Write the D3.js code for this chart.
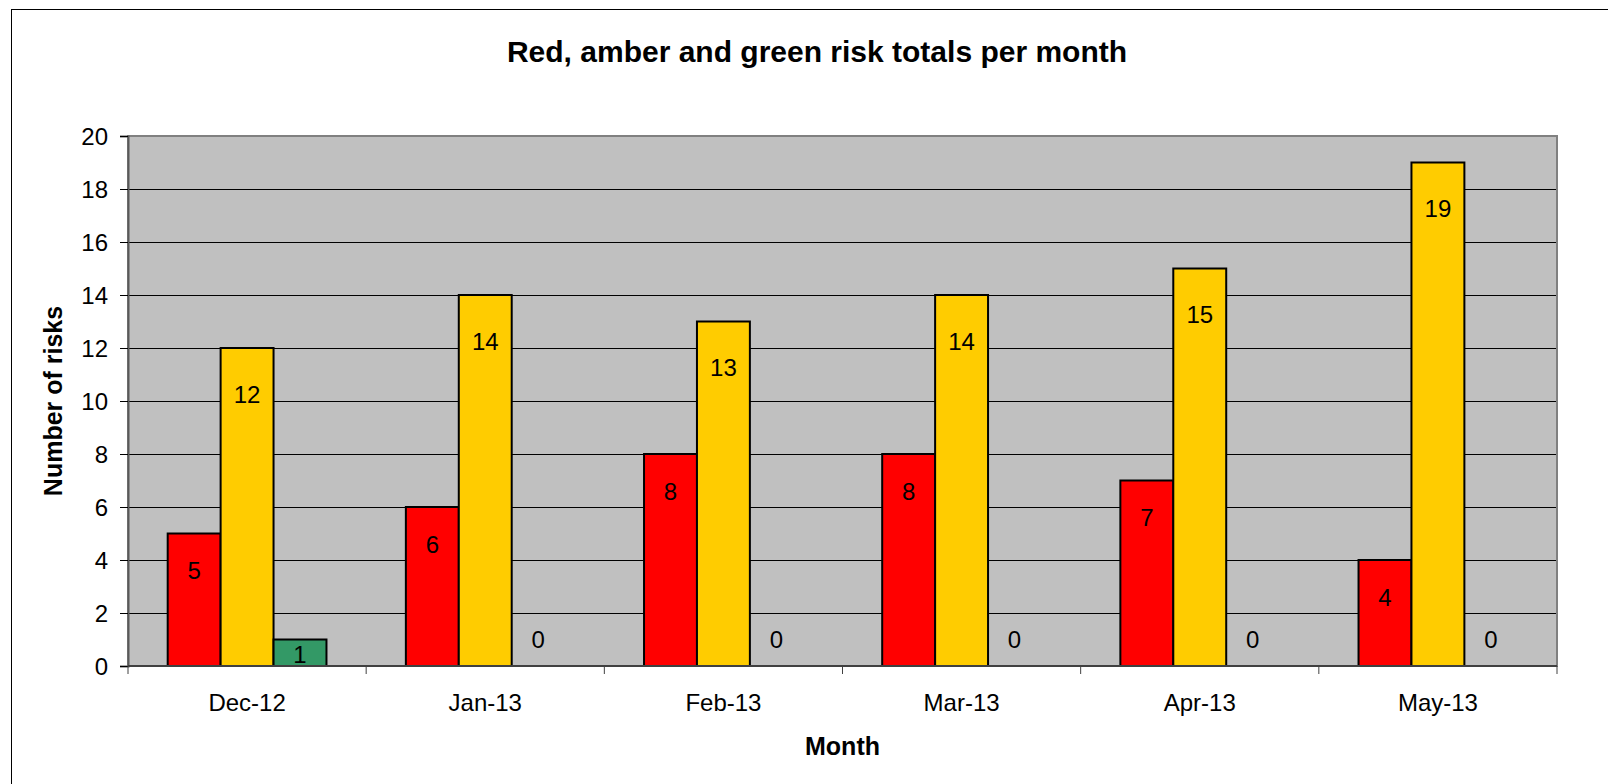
<!DOCTYPE html>
<html>
<head>
<meta charset="utf-8">
<script src="https://cdn.jsdelivr.net/npm/d3@7"></script>
<style>
  html, body { margin: 0; padding: 0; background: #fff; }
  svg { display: block; font-family: "Liberation Sans", Arial, sans-serif; }
</style>
</head>
<body>
<svg id="chart" width="1608" height="784"></svg>
<script>
// Monthly risk counts by RAG status
const months = ["Dec-12", "Jan-13", "Feb-13", "Mar-13", "Apr-13", "May-13"];
const series = ["Red", "Amber", "Green"];
const redRisks = [5, 6, 8, 8, 7, 4];
const amberRisks = [12, 14, 13, 14, 15, 19];
const greenRisks = [1, 0, 0, 0, 0, 0];
const yTicks = [0, 2, 4, 6, 8, 10, 12, 14, 16, 18, 20];

const seriesValues = { Red: redRisks, Amber: amberRisks, Green: greenRisks };
const colors = { Red: "#FF0000", Amber: "#FFCC00", Green: "#339966" };
// distance of the value label's centre below the top of its bar
const labelDrop = { Red: 37, Amber: 46, Green: 15 };

const svg = d3.select("#chart");

// outer chart frame
svg.append("rect")
  .attr("x", 11.5).attr("y", 9.5)
  .attr("width", 1640).attr("height", 800)
  .attr("fill", "#fff").attr("stroke", "#000").attr("stroke-width", 1);

const plot = { left: 128, top: 136, right: 1557, bottom: 666 };

const x0 = d3.scaleBand()
  .domain(months)
  .range([plot.left, plot.right])
  .padding(0);

const x1 = d3.scaleBand()
  .domain(series)
  .range([x0.bandwidth() / 6, x0.bandwidth() * 5 / 6])
  .padding(0);

const y = d3.scaleLinear()
  .domain([0, 20])
  .range([plot.bottom, plot.top]);

// plot area background
svg.append("rect")
  .attr("x", plot.left).attr("y", plot.top)
  .attr("width", plot.right - plot.left).attr("height", plot.bottom - plot.top)
  .attr("fill", "#C0C0C0");

// horizontal gridlines
svg.append("g")
  .selectAll("line")
  .data(yTicks.filter(t => t > 0 && t < 20))
  .join("line")
  .attr("x1", plot.left).attr("x2", plot.right)
  .attr("y1", d => Math.round(y(d)) + 0.5).attr("y2", d => Math.round(y(d)) + 0.5)
  .attr("stroke", "#000").attr("stroke-width", 1);

// plot border
svg.append("rect")
  .attr("x", plot.left).attr("y", plot.top)
  .attr("width", plot.right - plot.left).attr("height", plot.bottom - plot.top)
  .attr("fill", "none").attr("stroke", "#808080").attr("stroke-width", 2);

// bars
const rows = months.map((m, i) => ({
  month: m,
  bars: series.map(s => ({ key: s, value: seriesValues[s][i] }))
}));

const groups = svg.append("g")
  .selectAll("g")
  .data(rows)
  .join("g")
  .attr("transform", d => `translate(${x0(d.month)},0)`);

groups.selectAll("rect")
  .data(d => d.bars.filter(b => b.value > 0))
  .join("rect")
  .attr("x", d => x1(d.key))
  .attr("y", d => y(d.value))
  .attr("width", x1.bandwidth())
  .attr("height", d => y(0) - y(d.value))
  .attr("fill", d => colors[d.key])
  .attr("stroke", "#000")
  .attr("stroke-width", 2);

// value labels
groups.selectAll("text")
  .data(d => d.bars)
  .join("text")
  .attr("x", d => x1(d.key) + x1.bandwidth() / 2)
  .attr("y", d => (d.value === 0 ? y(0) - 27 : y(d.value) + labelDrop[d.key]) + 8.6)
  .attr("text-anchor", "middle")
  .attr("font-size", 24)
  .attr("fill", "#000")
  .text(d => d.value);

// y axis
const yAxis = svg.append("g")
  .attr("transform", `translate(${plot.left},0)`)
  .call(d3.axisLeft(y).tickValues(yTicks).tickSize(8).tickPadding(12).tickFormat(d3.format("d")));
yAxis.select(".domain").attr("stroke", "#595959").attr("stroke-width", 2);
yAxis.selectAll(".tick line").attr("stroke", "#000").attr("stroke-width", 1);
yAxis.selectAll(".tick text")
  .attr("font-size", 24).attr("font-family", "Liberation Sans, Arial, sans-serif")
  .attr("fill", "#000").attr("dy", "0.35em");

// x axis: ticks between categories
const xAxis = svg.append("g")
  .attr("transform", `translate(0,${plot.bottom})`);
xAxis.append("line")
  .attr("x1", plot.left).attr("x2", plot.right)
  .attr("y1", 0).attr("y2", 0)
  .attr("stroke", "#404040").attr("stroke-width", 2);
const boundaries = months.map(m => x0(m)).concat([plot.right]);
xAxis.selectAll("line.tk")
  .data(boundaries)
  .join("line")
  .attr("class", "tk")
  .attr("x1", d => d).attr("x2", d => d)
  .attr("y1", 0).attr("y2", 8)
  .attr("stroke", "#404040").attr("stroke-width", 1);
xAxis.selectAll("text")
  .data(months)
  .join("text")
  .attr("x", d => x0(d) + x0.bandwidth() / 2)
  .attr("y", 44.7)
  .attr("text-anchor", "middle")
  .attr("font-size", 24)
  .attr("fill", "#000")
  .text(d => d);

// titles
svg.append("text")
  .attr("x", 817).attr("y", 62)
  .attr("text-anchor", "middle")
  .attr("font-size", 30).attr("font-weight", "bold")
  .text("Red, amber and green risk totals per month");

svg.append("text")
  .attr("x", (plot.left + plot.right) / 2).attr("y", 755)
  .attr("text-anchor", "middle")
  .attr("font-size", 25).attr("font-weight", "bold")
  .text("Month");

svg.append("text")
  .attr("transform", `translate(61.5,${(plot.top + plot.bottom) / 2}) rotate(-90)`)
  .attr("text-anchor", "middle")
  .attr("font-size", 25).attr("font-weight", "bold")
  .text("Number of risks");
</script>
</body>
</html>
